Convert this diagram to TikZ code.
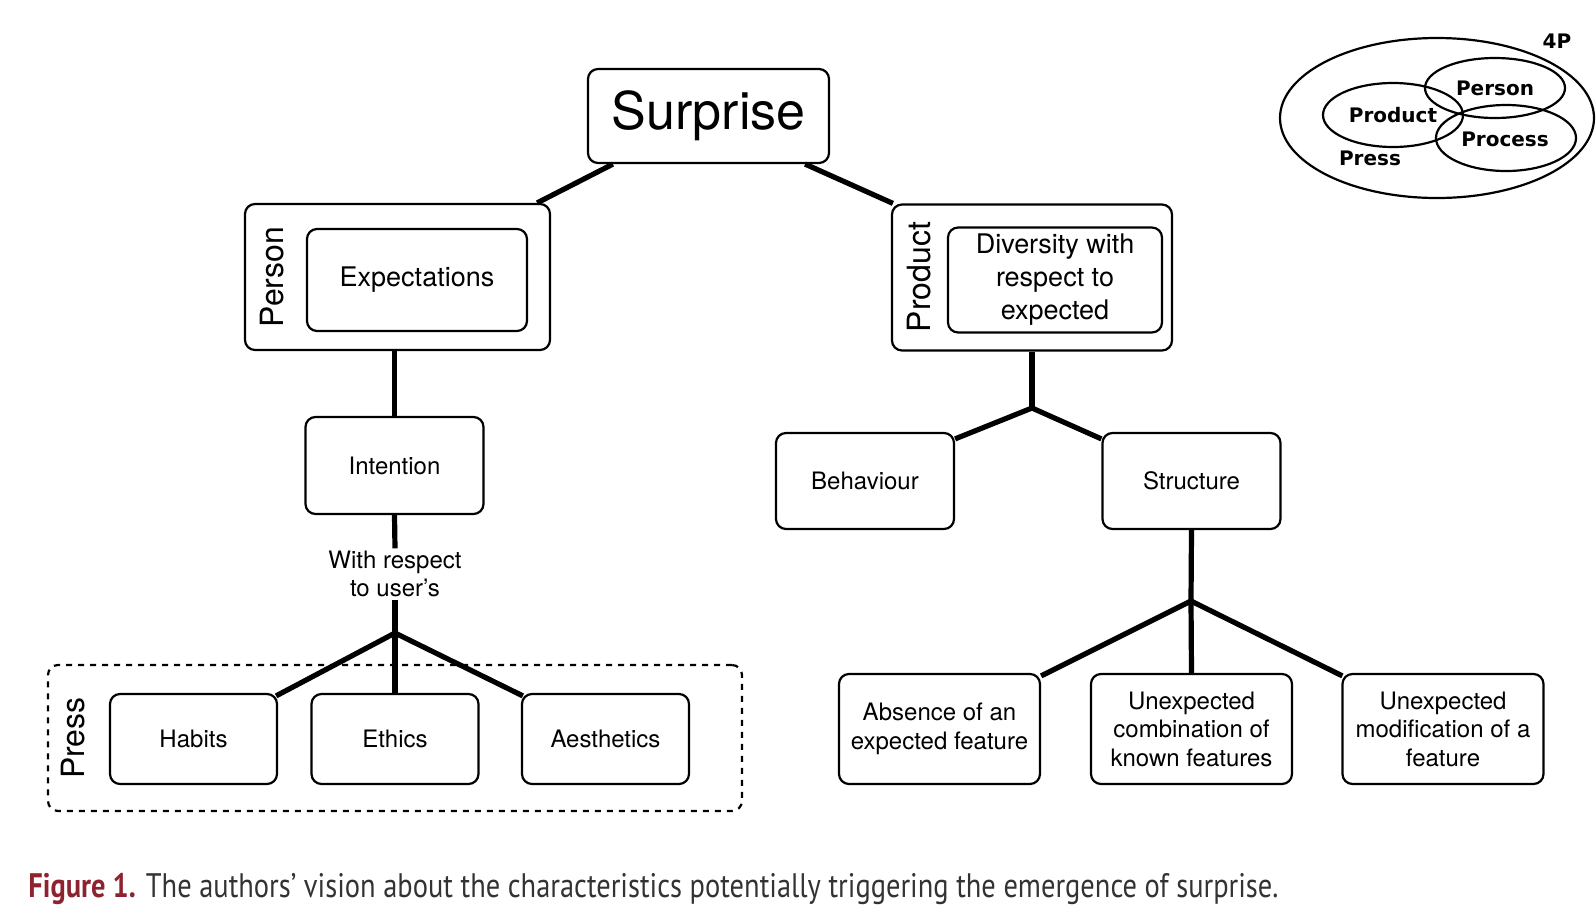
\documentclass[tikz,border=0pt]{standalone}
\usepackage{fontspec}
\usepackage{graphicx}
\usepackage{tikz}
\usetikzlibrary{positioning, calc}
\setmainfont{TeX Gyre Heros}
\newfontfamily\capfont{PT Sans}
\newfontfamily\vennfont{DejaVu Sans}
\definecolor{figred}{HTML}{8E2330}
\definecolor{captext}{HTML}{333333}

\begin{document}
\begin{tikzpicture}[
    x=0.5pt, y=-0.5pt,
    box/.style={draw, line width=1.1pt, rounded corners=5pt, align=center, minimum width=#1, font=\fontsize{12}{14.25}\selectfont},
    box/.default=89pt,
    group/.style={draw, line width=1.1pt, rounded corners=5pt, minimum width=#1, minimum height=73pt},
    side/.style={rotate=90, font=\fontsize{16}{18}\selectfont},
    link/.style={line width=2.6pt},
    venn/.style={line width=1.1pt},
    vlabel/.style={font=\vennfont\bfseries\fontsize{10}{12}\selectfont}
]
\useasboundingbox (0,0) rectangle (1596,922);

% Root
\node[box=120.5pt, minimum height=47pt, font=\fontsize{26}{30}\selectfont] (surprise) at (708.5,116) {Surprise};

% Person side
\node[group=152.5pt] (personbox) at (397.5,277) {};
\node[side] (person) at (272,277) {Person};
\node[box=110pt, minimum height=51pt, font=\fontsize{13.5}{16.5}\selectfont] (expect) at (417,280) {Expectations};
\node[box, minimum height=48.5pt] (intention) at (394.5,465.5) {Intention};
\node[align=center, font=\fontsize{12}{14.25}\selectfont, inner sep=1pt] (userlbl) at (395,574) {With respect\\to user's};
\coordinate (ljoin) at (395,633);

% Press group
\node[draw, dashed, line width=1.1pt, rounded corners=5pt, minimum width=347pt, minimum height=73pt] (pressbox) at (395,738) {};
\node[side] (press) at (73,738) {Press};
\node[box=83.5pt, minimum height=45pt] (habits) at (193.5,739) {Habits};
\node[box=83.5pt, minimum height=45pt] (ethics) at (395,739) {Ethics};
\node[box=83.5pt, minimum height=45pt] (aesth) at (605.5,739) {Aesthetics};

% Product side
\node[group=140pt] (productbox) at (1032,277.5) {};
\node[side] (product) at (919,277) {Product};
\node[box=107pt, minimum height=51pt, font=\fontsize{13.5}{16.5}\selectfont] (diversity) at (1055,280) {Diversity with\\respect to\\expected};
\coordinate (rjoin) at (1032,408);
\node[box, minimum height=48pt] (behaviour) at (865,481) {Behaviour};
\node[box, minimum height=48pt] (structure) at (1191.5,481) {Structure};
\coordinate (sjoin) at (1191,601);
\node[box=100.5pt, minimum height=55pt] (absence) at (939.5,729) {Absence of an\\expected feature};
\node[box=100.5pt, minimum height=55pt] (combination) at (1191.5,729) {Unexpected\\combination of\\known features};
\node[box=100.5pt, minimum height=55pt] (modification) at (1443,729) {Unexpected\\modification of a\\feature};

% Links
\draw[link] ([xshift=13pt]surprise.south west) -- ([xshift=-7pt]personbox.north east);
\draw[link] ([xshift=-12.5pt]surprise.south east) -- ([xshift=1pt]productbox.north west);
\draw[link] (intention.north |- personbox.south) -- (intention.north);
\draw[link] (intention.south) -- (userlbl.north);
\draw[link] (userlbl.south) -- (ljoin);
\draw[link] (ljoin) -- ([xshift=-1pt,yshift=-1.5pt]habits.north east);
\draw[link] (ljoin) -- (ethics.north);
\draw[link] (ljoin) -- ([xshift=1pt,yshift=-1.5pt]aesth.north west);
\draw[link] (productbox.south) -- (rjoin);
\draw[link] (rjoin) -- ([yshift=-3.5pt]behaviour.north east);
\draw[link] (rjoin) -- ([yshift=-3.5pt]structure.north west);
\draw[link] (structure.south) -- (sjoin);
\draw[link] (sjoin) -- ([yshift=-1.5pt]absence.north east);
\draw[link] (sjoin) -- (combination.north);
\draw[link] (sjoin) -- ([xshift=0.5pt,yshift=-1.5pt]modification.north west);

% 4P inset
\draw[venn] (1437,118) ellipse [x radius=157, y radius=80];
\draw[venn] (1393,115) ellipse [x radius=70, y radius=32];
\draw[venn] (1495,88) ellipse [x radius=70, y radius=30];
\draw[venn] (1506,138) ellipse [x radius=70, y radius=33];
\node[vlabel] (fourp) at (1557,41) {4P};
\node[vlabel] (vperson) at (1495,88) {Person};
\node[vlabel] (vproduct) at (1393,115) {Product};
\node[vlabel] (vprocess) at (1505,139) {Process};
\node[vlabel] (vpress) at (1370,158) {Press};

% Caption
\node[anchor=base west, inner sep=0pt, font=\capfont\fontsize{17}{20}\selectfont, text=captext] (caption) at (28,897)
    {\resizebox{625pt}{\height}{\textcolor{figred}{\bfseries Figure 1.} The authors’ vision about the characteristics potentially triggering the emergence of surprise.}};

\end{tikzpicture}
\end{document}
